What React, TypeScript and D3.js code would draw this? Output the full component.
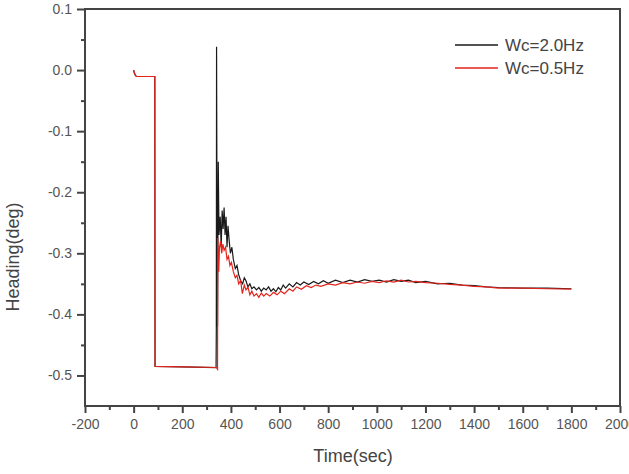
import { useEffect, useRef } from 'react';
import { select, scaleLinear, line, axisBottom, axisLeft, range } from 'd3';

// [time (sec), heading (deg)]
const wc20: [number, number][] = [
  [0, 0], [3, -0.005], [8, -0.009], [12, -0.0105], [87, -0.0105], [88, -0.485], [200, -0.486],
  [339, -0.487], [340, -0.425], [341, 0.038], [343, -0.27], [345, -0.42], [348, -0.15], [351, -0.27],
  [356, -0.24], [360, -0.29], [364, -0.23], [368, -0.26], [372, -0.225], [376, -0.27], [380, -0.24],
  [384, -0.29], [388, -0.255], [393, -0.28], [398, -0.3], [404, -0.29], [410, -0.31], [418, -0.325],
  [425, -0.32], [432, -0.335], [440, -0.345], [448, -0.35], [455, -0.34], [462, -0.345], [470, -0.355],
  [478, -0.35], [486, -0.358], [495, -0.355], [505, -0.36], [515, -0.356], [525, -0.362], [535, -0.357],
  [545, -0.36], [555, -0.355], [565, -0.362], [575, -0.358], [585, -0.363], [595, -0.356], [605, -0.36],
  [615, -0.352], [625, -0.357], [640, -0.35], [655, -0.355], [670, -0.348], [685, -0.352], [700, -0.347],
  [720, -0.351], [740, -0.346], [760, -0.35], [780, -0.345], [800, -0.349], [830, -0.344], [860, -0.348],
  [890, -0.344], [920, -0.347], [950, -0.343], [980, -0.346], [1010, -0.344], [1040, -0.347],
  [1070, -0.343], [1100, -0.346], [1130, -0.344], [1160, -0.348], [1200, -0.346], [1250, -0.35],
  [1300, -0.349], [1350, -0.352], [1400, -0.353], [1450, -0.355], [1500, -0.356], [1600, -0.357],
  [1700, -0.357], [1800, -0.358],
];

const wc05: [number, number][] = [
  [0, 0], [3, -0.005], [8, -0.009], [12, -0.0105], [87, -0.0105], [88, -0.485], [200, -0.486],
  [340, -0.487], [345, -0.49], [346, -0.275], [350, -0.33], [353, -0.29], [358, -0.28], [362, -0.3],
  [367, -0.285], [372, -0.295], [378, -0.29], [384, -0.31], [390, -0.305], [396, -0.32], [402, -0.315],
  [410, -0.33], [418, -0.34], [425, -0.336], [432, -0.35], [440, -0.345], [447, -0.366], [455, -0.352],
  [462, -0.36], [470, -0.355], [478, -0.368], [486, -0.362], [495, -0.37], [505, -0.366], [515, -0.372],
  [525, -0.365], [535, -0.37], [545, -0.366], [560, -0.37], [575, -0.364], [590, -0.368], [605, -0.362],
  [620, -0.366], [640, -0.358], [655, -0.362], [670, -0.355], [690, -0.359], [710, -0.353], [730, -0.356],
  [750, -0.352], [770, -0.354], [800, -0.35], [830, -0.352], [860, -0.348], [890, -0.35], [920, -0.347],
  [950, -0.349], [980, -0.346], [1010, -0.348], [1040, -0.345], [1070, -0.347], [1100, -0.344],
  [1130, -0.347], [1160, -0.346], [1200, -0.348], [1250, -0.349], [1300, -0.351], [1350, -0.352],
  [1400, -0.354], [1450, -0.355], [1500, -0.357], [1600, -0.357], [1700, -0.358], [1800, -0.3585],
];

const seriesNames = ['Wc=2.0Hz', 'Wc=0.5Hz'];
const seriesColors = ['#1a1a1a', '#e3241c'];
const xTicks = range(-200, 2001, 200);
const yTicks = [0.1, 0.0, -0.1, -0.2, -0.3, -0.4, -0.5];

const W = 629;
const H = 474;
const LEFT = 85;
const RIGHT = 620;
const TOP = 9;
const BOTTOM = 406;
const AXIS = '#444';
const FONT = '"Liberation Sans", Arial, sans-serif';

export default function App() {
  const axisRef = useRef<SVGGElement>(null);
  const x = scaleLinear().domain([-200, 2000]).range([LEFT, RIGHT]);
  const y = scaleLinear().domain([-0.55, 0.1]).range([BOTTOM, TOP]);
  const path = line<[number, number]>()
    .x(([t]) => x(t))
    .y(([, v]) => y(v));

  useEffect(() => {
    document.body.style.margin = '0';
    const g = select(axisRef.current);
    g.selectAll('*').remove();

    const styleAxis = (sel: any) => {
      sel.select('.domain').remove();
      sel.selectAll('line').attr('stroke', AXIS).attr('stroke-width', 2);
      sel.selectAll('text').attr('fill', '#555').attr('font-size', 14).attr('font-family', FONT);
    };

    // minor ticks
    g.append('g')
      .attr('transform', `translate(0,${BOTTOM})`)
      .call(axisBottom(x).tickValues(range(-100, 2000, 200)).tickSize(4).tickFormat(() => ''))
      .call(styleAxis);
    g.append('g')
      .attr('transform', `translate(${LEFT},0)`)
      .call(axisLeft(y).tickValues([0.05, -0.05, -0.15, -0.25, -0.35, -0.45]).tickSize(4).tickFormat(() => ''))
      .call(styleAxis);

    // major ticks (plain hyphen for negatives, as in the original)
    g.append('g')
      .attr('transform', `translate(0,${BOTTOM})`)
      .call(axisBottom(x).tickValues(xTicks).tickSize(7).tickPadding(6).tickFormat((d) => String(d)))
      .call(styleAxis);
    g.append('g')
      .attr('transform', `translate(${LEFT},0)`)
      .call(
        axisLeft(y)
          .tickValues(yTicks)
          .tickSize(8)
          .tickPadding(5)
          .tickFormat((d) => (+d).toFixed(1).replace('-0.0', '0.0')),
      )
      .call(styleAxis);
  }, []);

  const series = [wc20, wc05];

  return (
    <svg width={W} height={H} style={{ position: 'absolute', left: 0, top: 0, background: '#fff' }}>
      <g>
        {series.map((d, i) => (
          <path key={i} d={path(d) ?? ''} fill="none" stroke={seriesColors[i]} strokeWidth={1.2} />
        ))}
      </g>
      <rect x={LEFT} y={TOP} width={RIGHT - LEFT} height={BOTTOM - TOP} fill="none" stroke={AXIS} strokeWidth={2} />
      <g ref={axisRef} />
      <g fontFamily={FONT} fontSize={17} fill="#444">
        {seriesNames.map((name, i) => (
          <g key={name} transform={`translate(455,${45 + i * 23})`}>
            <line x1={0} x2={43} y1={0} y2={0} stroke={seriesColors[i]} strokeWidth={1.3} />
            <text x={50} y={6}>{name}</text>
          </g>
        ))}
      </g>
      <text x={353} y={462} textAnchor="middle" fontFamily={FONT} fontSize={18} fill="#444">
        Time(sec)
      </text>
      <text
        transform="translate(19,257) rotate(-90)"
        textAnchor="middle"
        fontFamily={FONT}
        fontSize={18}
        fill="#444"
      >
        Heading(deg)
      </text>
    </svg>
  );
}
